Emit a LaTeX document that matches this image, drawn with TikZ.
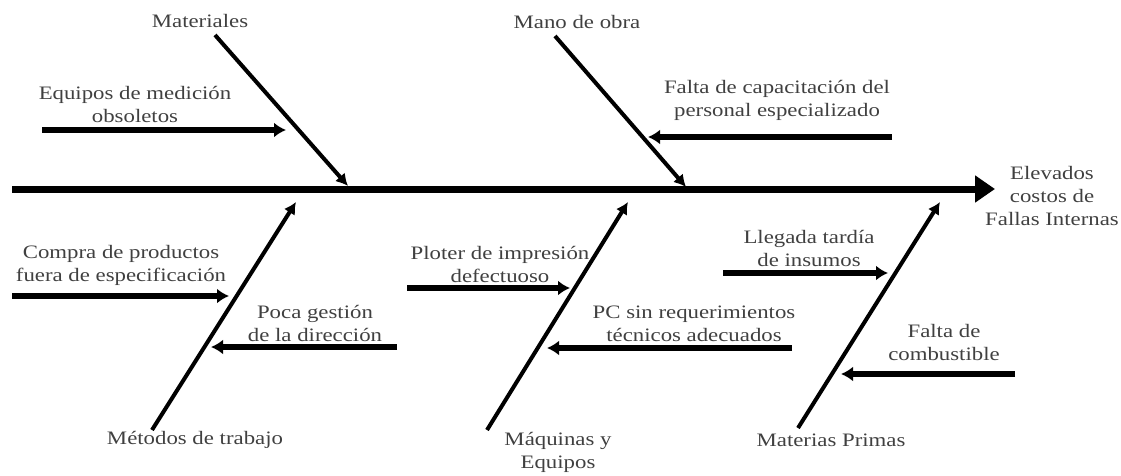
\documentclass[tikz,border=0pt]{standalone}
\usepackage{fontspec}
\setmainfont{Liberation Serif}[FakeStretch=1.2]
\usetikzlibrary{arrows.meta}
\tikzset{
  lbl/.style={align=center, inner sep=0pt, text=black!75, font=\fontsize{19}{23}\selectfont},
  spine/.style={line width=7pt, -{Triangle[length=20pt,width=26pt]}},
  bone/.style={line width=4pt, -{Latex[length=12pt,width=13pt]}},
  cause/.style={line width=5.5pt, -{Latex[length=12pt,width=15pt]}}
}
\begin{document}
\begin{tikzpicture}[x=1pt,y=-1pt]
\useasboundingbox (0,0) rectangle (1121,476);
% spine
\coordinate (s0) at (12,189);
\node[lbl] (eff) at (1052,196) {Elevados\\costos de\\Fallas Internas};
\coordinate (s1) at (995,189);
\draw[spine] (s0) -- (s1);

% Materiales
\node[lbl] (mat) at (200,21) {Materiales};
\coordinate (matA) at (215,35);
\coordinate (matB) at (348,186);
\draw[bone] (matA) -- (matB);
\node[lbl] (equ) at (135,104) {Equipos de medición\\obsoletos};
\coordinate (equA) at (42,130);
\coordinate (equB) at (286,130);
\draw[cause] (equA) -- (equB);

% Mano de obra
\node[lbl] (mano) at (577,22) {Mano de obra};
\coordinate (manoA) at (555,36);
\coordinate (manoB) at (686,187);
\draw[bone] (manoA) -- (manoB);
\node[lbl] (cap) at (777,100) {Falta de capacitación del\\personal especializado};
\coordinate (capA) at (892,137);
\coordinate (capB) at (648,137);
\draw[cause] (capA) -- (capB);

% Metodos de trabajo
\node[lbl] (met) at (195,440) {Métodos de trabajo};
\coordinate (metA) at (152,430);
\coordinate (metB) at (296,202);
\draw[bone] (metA) -- (metB);
\node[lbl] (com) at (121,265) {Compra de productos\\fuera de especificación};
\coordinate (comA) at (12,296);
\coordinate (comB) at (229,296);
\draw[cause] (comA) -- (comB);
\node[lbl] (poc) at (315,323) {Poca gestión\\de la dirección};
\coordinate (pocA) at (397,347);
\coordinate (pocB) at (211,347);
\draw[cause] (pocA) -- (pocB);

% Maquinas y Equipos
\node[lbl] (maq) at (558,452) {Máquinas y\\Equipos};
\coordinate (maqA) at (487,430);
\coordinate (maqB) at (628,202);
\draw[bone] (maqA) -- (maqB);
\node[lbl] (plo) at (500,264) {Ploter de impresión\\defectuoso};
\coordinate (ploA) at (407,288);
\coordinate (ploB) at (570,288);
\draw[cause] (ploA) -- (ploB);
\node[lbl] (pc) at (694,324) {PC sin requerimientos\\técnicos adecuados};
\coordinate (pcA) at (792,348);
\coordinate (pcB) at (547,348);
\draw[cause] (pcA) -- (pcB);

% Materias Primas
\node[lbl] (mp) at (831,440) {Materias Primas};
\coordinate (mpA) at (798,428);
\coordinate (mpB) at (940,202);
\draw[bone] (mpA) -- (mpB);
\node[lbl] (lle) at (809,248) {Llegada tardía\\de insumos};
\coordinate (lleA) at (723,273);
\coordinate (lleB) at (888,273);
\draw[cause] (lleA) -- (lleB);
\node[lbl] (fal) at (944,342) {Falta de\\combustible};
\coordinate (falA) at (1015,374);
\coordinate (falB) at (841,374);
\draw[cause] (falA) -- (falB);
\end{tikzpicture}
\end{document}
